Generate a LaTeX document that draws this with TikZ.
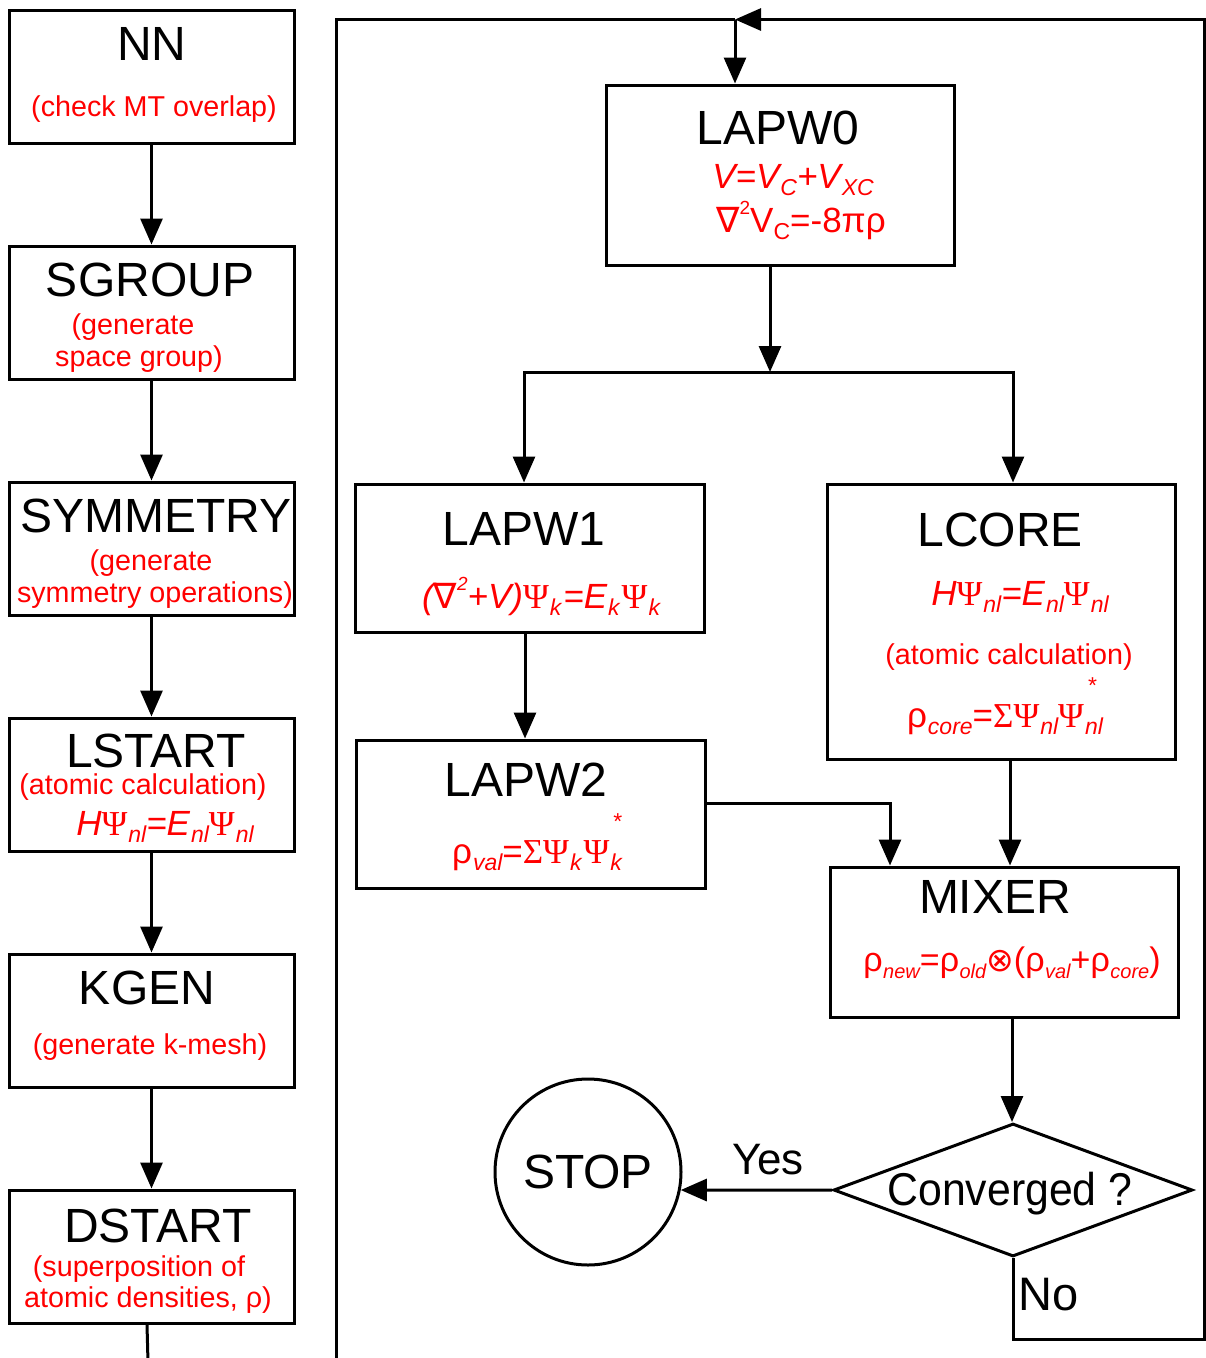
\documentclass[tikz,border=0pt]{standalone}
\usepackage{fontspec}
\setmainfont{Liberation Sans}
\newfontfamily\serf{Liberation Serif}
\newfontfamily\dvs{DejaVu Sans}
\usetikzlibrary{arrows.meta,calc,shapes.geometric}

\newcommand\Ps{{\serf\upshape Ψ}}
\newcommand\Sg{{\serf\upshape Σ}}
\newcommand\lo[1]{\kern1pt\raisebox{-0.22em}{\fontsize{23}{23}\selectfont\itshape #1}}
\newcommand\los[1]{\kern0.5pt\raisebox{-0.22em}{\fontsize{20}{20}\selectfont\itshape #1}}
\newcommand\lou[1]{\raisebox{-0.2em}{\fontsize{23}{23}\selectfont #1}}
\newcommand\hi[1]{\raisebox{0.5em}{\fontsize{19}{19}\selectfont #1}}
\newcommand\st{\rlap{\kern4pt\raisebox{0.95em}{\fontsize{23}{23}\selectfont\upshape *}}}

\begin{document}
\begin{tikzpicture}[x=1pt,y=-1pt,
  box/.style={draw, line width=3pt, rectangle, inner sep=0pt},
  ttl/.style={anchor=base, inner sep=0pt, font=\fontsize{48}{50}\selectfont},
  rtx/.style={anchor=base, inner sep=0pt, text=red, font=\fontsize{28.7}{30}\selectfont},
  fml/.style={anchor=base, inner sep=0pt, text=red, font=\fontsize{35}{37}\selectfont},
  arr/.style={line width=3pt, -{Triangle[length=26pt,width=22pt]}},
  ln/.style={line width=3pt}]
\useasboundingbox (0,0) rectangle (1206,1358);
\fill[white] (0,0) rectangle (1206,1358);

% left column boxes
\node[box, minimum width=285pt, minimum height=133pt] (nn)  at (151.5,76.5) {};
\node[box, minimum width=285pt, minimum height=133pt] (sg)  at (151.5,312.5) {};
\node[box, minimum width=285pt, minimum height=133pt] (sym) at (151.5,548.5) {};
\node[box, minimum width=285pt, minimum height=133pt] (ls)  at (151.5,784.5) {};
\node[box, minimum width=285pt, minimum height=133pt] (kg)  at (151.5,1020.5) {};
\node[box, minimum width=285pt, minimum height=133pt] (ds)  at (151.5,1256.5) {};

\node[ttl] (nnT) at (152,60) {NN};
\node[rtx] (nnR) at (154,116) {(check MT overlap)};
\node[ttl] (sgT) at (150,296) {SGROUP};
\node[rtx] (sgR1) at (133,334) {(generate};
\node[rtx] (sgR2) at (139,366) {space group)};
\node[ttl] (syT) at (156,532) {SYMMETRY};
\node[rtx] (syR1) at (151,570) {(generate};
\node[rtx] (syR2) at (155,602) {symmetry operations)};
\node[ttl] (lsT) at (156,767) {LSTART};
\node[rtx] (lsR) at (143,794) {(atomic calculation)};
\node[fml] (lsF) at (165,835) {\itshape H\Ps\lo{nl}=E\lo{nl}\Ps\lo{nl}};
\node[ttl] (kgT) at (147,1004) {KGEN};
\node[rtx] (kgR) at (150,1054) {(generate k-mesh)};
\node[ttl] (dsT) at (158,1242) {DSTART};
\node[rtx] (dsR1) at (139,1276) {(superposition of};
\node[rtx] (dsR2) at (148,1307) {atomic densities, ρ)};

\draw[arr] (nn.south) -- (sg.north);
\draw[arr] (sg.south) -- (sym.north);
\draw[arr] (sym.south) -- (ls.north);
\draw[arr] (ls.south) -- (kg.north);
\draw[arr] (kg.south) -- (ds.north);
\coordinate (dsend) at (148,1362);
\draw[ln] ([xshift=-4.5pt]ds.south) -- (dsend);

% right part boxes
\node[box, minimum width=348pt, minimum height=180pt] (l0) at (780,175) {};
\node[ttl] (l0T) at (778,144) {LAPW0};
\node[fml] (l0F1) at (793,188) {\itshape V=V\lo{C}+V\lo{XC}};
\node[fml] (l0F2) at (801,232) {{\dvs ∇}\hi{2}V\lou{C}=-8πρ};

\node[box, minimum width=349pt, minimum height=148pt] (l1) at (529.5,558) {};
\node[ttl] (l1T) at (524,545) {LAPW1};
\node[fml] (l1F) at (541,608) {\itshape ({\dvs ∇}\hi{2}+V)\Ps\lo{k}\kern2pt=E\lo{k}\kern2pt\Ps\lo{k}};

\node[box, minimum width=349pt, minimum height=148pt] (l2) at (530.5,814) {};
\node[ttl] (l2T) at (526,796) {LAPW2};
\node[fml] (l2F) at (537,863) {ρ\lo{val}=\Sg\Ps\lo{k}\kern2pt\Ps\st\lo{k}};

\node[box, minimum width=348pt, minimum height=275pt] (lc) at (1001,621.5) {};
\node[ttl] (lcT) at (1000,546) {LCORE};
\node[fml] (lcF1) at (1020,605) {\itshape H\Ps\lo{nl}=E\lo{nl}\Ps\lo{nl}};
\node[rtx] (lcR) at (1009,664) {(atomic calculation)};
\node[fml] (lcF2) at (1005,727) {ρ\lo{core}=\Sg\Ps\lo{nl}\Ps\st\lo{nl}};

\node[box, minimum width=348pt, minimum height=150pt] (mx) at (1004,942) {};
\node[ttl] (mxT) at (995,913) {MIXER};
\node[fml, font=\fontsize{34}{36}\selectfont] (mxF) at (1012,971) {ρ\los{new}=ρ\los{old}{\dvs\fontsize{33}{33}\selectfont ⊗}(ρ\los{val}+ρ\los{core})};

\node[diamond, draw, line width=3pt, minimum width=359pt, minimum height=133pt, inner sep=0pt] (dia) at (1013,1190) {};
\node[anchor=base, inner sep=0pt, font=\fontsize{46}{48}\selectfont] (diaT) at (1010,1205) {\scalebox{0.93}[1]{Converged ?}};

\node[circle, draw, line width=3pt, minimum size=186pt, inner sep=0pt, font=\fontsize{48}{50}\selectfont] (stop) at (588,1172) {STOP};
\node[anchor=base, inner sep=0pt, font=\fontsize{44}{46}\selectfont] (yes) at (768,1174) {Yes};
\node[anchor=base, inner sep=0pt, font=\fontsize{47}{49}\selectfont] (no) at (1049,1310) {No};

% loop
\coordinate (lbot) at (336,1362);
\coordinate (ltop) at (336,19.5);
\coordinate (jn) at (735,19.5);
\coordinate (rtop) at (1204,19.5);
\coordinate (rbot) at (1204,1339);
\draw[ln] (lbot) -- (ltop) -- (jn);
\draw[arr] (rtop) -- (jn);
\draw[arr] (jn) -- (jn |- l0.north);
\draw[ln] (dia.south) |- (rbot) -- (rtop) -- ++(-2,0);

% split
\coordinate (sp) at (770,372);
\coordinate (spL) at (524,372);
\coordinate (spR) at (1013,372);
\draw[arr] (l0.south -| sp) -- (sp);
\draw[arr] (spR) -- (spL) -- (spL |- l1.north);
\draw[arr] ([yshift=1.5pt]spR) -- (spR |- lc.north);

\draw[arr] ([xshift=-4.5pt]l1.south) -- ([xshift=-4.5pt]l1.south |- l2.north);
\draw[arr] ([yshift=11pt]l2.east) -| ([xshift=-114pt]mx.north);
\draw[arr] ([xshift=9pt]lc.south) -- ([xshift=9pt]lc.south |- mx.north);
\draw[arr] ([xshift=8pt]mx.south) -- ([xshift=8pt]mx.south |- dia.north);
\draw[arr] (dia.west) -- (stop.-11);
\end{tikzpicture}
\end{document}
